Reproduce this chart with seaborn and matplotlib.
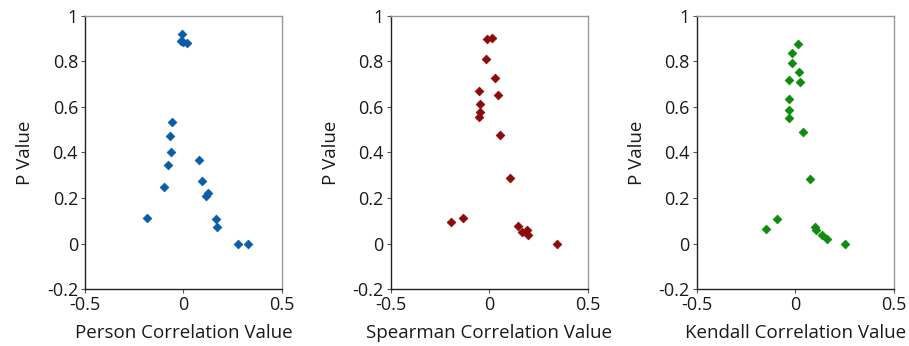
"""
P value against correlation value for three correlation methods.
"""
import numpy as np
import pandas as pd
import matplotlib
matplotlib.use("Agg")
import matplotlib.pyplot as plt
import seaborn as sns

# values
pearson_r = [-0.008, -0.014, 0.0, 0.017, -0.059, -0.068, -0.063, -0.080, -0.100,
             -0.183, 0.081, 0.092, 0.122, 0.115, 0.163, 0.171, 0.276, 0.329]
pearson_p = [0.918, 0.890, 0.886, 0.878, 0.534, 0.471, 0.401, 0.344, 0.247,
             0.114, 0.366, 0.275, 0.220, 0.208, 0.110, 0.072, 0.0, 0.0]

spearman_r = [-0.012, 0.014, -0.015, 0.032, -0.051, 0.044, -0.046, -0.046, -0.051,
              0.056, 0.107, -0.193, -0.134, 0.144, 0.166, 0.192, 0.198, 0.346]
spearman_p = [0.896, 0.900, 0.808, 0.728, 0.668, 0.653, 0.612, 0.577, 0.556,
              0.476, 0.288, 0.097, 0.114, 0.078, 0.050, 0.061, 0.040, 0.0]

kendall_r = [0.012, -0.014, -0.014, 0.019, -0.031, 0.025, -0.031, -0.031, -0.029,
             0.041, 0.076, -0.093, -0.146, 0.102, 0.107, 0.136, 0.163, 0.251]
kendall_p = [0.874, 0.837, 0.791, 0.751, 0.719, 0.709, 0.635, 0.586, 0.552,
             0.489, 0.283, 0.110, 0.064, 0.072, 0.059, 0.037, 0.022, 0.0]

x_labels = ["Person Correlation Value", "Spearman Correlation Value", "Kendall Correlation Value"]
colors = ["#0b5ca8", "#8b0a0a", "#0e8a0e"]
x_ticks = [-0.5, 0, 0.5]
x_tick_labels = ["-0.5", "0", "0.5"]
y_ticks = [-0.2, 0, 0.2, 0.4, 0.6, 0.8, 1]
y_tick_labels = ["-0.2", "0", "0.2", "0.4", "0.6", "0.8", "1"]

sns.set_style("white")
plt.rcParams["font.family"] = ["Open Sans", "DejaVu Sans"]

fig = plt.figure(figsize=(9.09, 3.46), dpi=100)
lefts = [0.0935, 0.4298, 0.7664]
panels = [(pearson_r, pearson_p), (spearman_r, spearman_p), (kendall_r, kendall_p)]

for left, (r, p), xlab, col in zip(lefts, panels, x_labels, colors):
    ax = fig.add_axes([left, 0.164, 0.2167, 0.791])
    df = pd.DataFrame({"r": r, "p": p})
    sns.scatterplot(data=df, x="r", y="p", ax=ax, marker="D", s=20,
                    color=col, edgecolor=col, linewidth=0.5)
    ax.set_xlim(-0.5, 0.5)
    ax.set_ylim(-0.2, 1)
    ax.set_xticks(x_ticks)
    ax.set_xticklabels(x_tick_labels)
    ax.set_yticks(y_ticks)
    ax.set_yticklabels(y_tick_labels)
    ax.set_xlabel(xlab, fontsize=13.5, color="#1a1a1a", labelpad=7)
    ax.set_ylabel("P Value", fontsize=13.5, color="#1a1a1a", labelpad=9)
    ax.tick_params(axis="both", direction="out", length=3, width=0.8,
                   color="#555555", labelsize=13, labelcolor="#1a1a1a", pad=2, left=True, bottom=True)
    for side in ["left", "bottom"]:
        ax.spines[side].set_color("#222222")
        ax.spines[side].set_linewidth(1.0)
    for side in ["top", "right"]:
        ax.spines[side].set_color("#999999")
        ax.spines[side].set_linewidth(1.0)

fig.savefig("out.png", dpi=100)
